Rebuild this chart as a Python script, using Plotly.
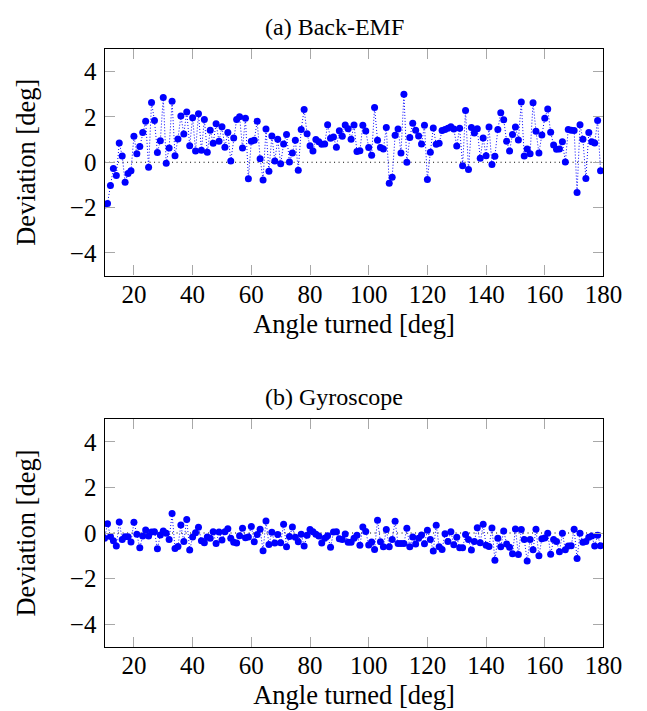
import plotly.graph_objects as go

# angle turned, one sample per degree
angle = list(range(10, 180))

# deviation of back-EMF estimate [deg]
backemf = [
    -1.89, -1.82, -1.03, -0.28, -0.59, 0.85, 0.28, -0.88, -0.50, -0.37,
    1.15, 0.37, 0.69, 1.31, 1.81, -0.22, 2.64, 1.84, 0.43, 0.95,
    2.86, -0.04, 0.63, 2.69, 0.29, 1.03, 2.04, 1.25, 2.22, 0.73,
    1.97, 0.50, 2.14, 0.53, 1.89, 0.44, 1.41, 0.84, 1.70, 0.93,
    1.57, 0.66, 1.31, 0.06, 1.07, 1.89, 2.01, 0.63, 1.94, -0.73,
    0.93, 0.97, 1.81, 0.16, -0.78, 1.47, -0.40, 1.16, 0.06, 1.01,
    -0.07, 0.81, 1.23, 0.01, 0.41, 0.97, -0.35, 1.45, 2.33, 1.26,
    0.73, 0.50, 1.00, 0.90, 0.79, 0.81, 1.66, 1.06, 1.12, 0.66,
    1.39, 1.15, 1.64, 1.48, 1.01, 1.64, 0.47, 0.51, 1.63, 1.38,
    0.65, 0.31, 2.42, 0.97, 0.65, 0.59, 1.53, -0.93, -0.66, 1.19,
    1.47, 0.41, 3.00, 0.00, 1.09, 1.72, 1.41, 1.16, 0.81, 1.63,
    -0.76, 0.44, 1.51, 0.79, 0.84, 1.40, 1.45, 1.50, 1.57, 1.47,
    0.72, 1.50, -0.15, 2.29, -0.32, 1.53, 1.29, 1.48, 0.18, 1.07,
    0.29, 1.56, -0.10, 0.26, 1.45, 2.19, 1.88, 0.93, 0.50, 1.23,
    1.56, 0.98, 2.66, 0.28, 0.59, 0.38, 2.63, 1.37, 0.41, 1.20,
    1.94, 2.35, 1.32, 0.76, 0.57, 0.59, 0.90, 0.01, 1.45, 1.41,
    1.40, -1.34, 1.66, 1.01, -0.72, 1.31, 0.91, 0.85, 1.84, -0.37,
]

# deviation of gyroscope estimate [deg]
gyro = [
    -0.23, 0.41, -0.15, -0.34, -0.57, 0.48, -0.28, -0.16, -0.16, -0.40,
    0.47, -0.06, -0.65, -0.13, 0.13, -0.13, 0.04, 0.06, -0.69, -0.09,
    0.09, -0.01, -0.28, 0.85, -0.68, -0.59, 0.35, -0.37, 0.59, -0.75,
    -0.18, 0.01, 0.25, -0.34, -0.43, -0.18, -0.23, 0.06, -0.46, 0.04,
    -0.31, 0.06, 0.19, -0.23, -0.41, -0.44, -0.12, 0.21, -0.21, -0.18,
    0.29, -0.38, -0.07, 0.16, -0.78, 0.53, -0.50, 0.03, -0.44, -0.07,
    -0.43, 0.38, -0.60, -0.15, 0.26, -0.19, -0.38, -0.06, -0.57, -0.10,
    0.15, 0.06, -0.06, -0.13, -0.44, -0.23, -0.12, -0.62, 0.04, 0.06,
    -0.25, -0.29, -0.04, -0.41, -0.41, -0.23, -0.10, -0.54, 0.26, 0.07,
    -0.53, -0.40, -0.72, 0.56, -0.38, -0.60, 0.15, -0.60, -0.28, 0.51,
    -0.46, -0.46, -0.46, 0.21, -0.60, -0.18, -0.48, -0.23, -0.09, -0.47,
    0.12, -0.28, -0.79, 0.34, -0.60, -0.72, -0.03, -0.37, 0.06, -0.51,
    -0.19, -0.65, -0.65, -0.07, -0.29, -0.75, -0.37, 0.23, -0.43, 0.38,
    -0.54, -0.59, 0.22, -1.19, -0.23, -0.60, 0.09, -0.48, -0.63, -0.91,
    0.18, -0.94, 0.15, -0.28, -1.23, -0.29, -0.73, 0.16, -1.00, -0.25,
    -0.22, -0.01, -0.93, -0.29, -0.37, -0.82, -0.01, -0.73, -0.57, -0.56,
    0.16, -1.12, -0.01, -0.41, -0.37, -0.19, -0.13, -0.57, -0.10, -0.56,
]

titles = ["(a) Back-EMF", "(b) Gyroscope"]
x_ticks = [20, 40, 60, 80, 100, 120, 140, 160, 180]
y_ticks = [-4, -2, 0, 2, 4]

FONT = "Liberation Serif"
W, H = 647, 711

fig = go.Figure()

# pixel boxes of the two frames (top, bottom)
frames = [(41, 267.5), (411, 639)]
x_dom = [99.5 / W, 613.5 / W]

for i, (series, name) in enumerate(zip([backemf, gyro], titles)):
    n = "" if i == 0 else str(i + 1)
    fig.add_trace(go.Scatter(
        x=angle, y=series, mode="lines+markers",
        line=dict(color="blue", width=1, dash="1px,2px"),
        marker=dict(color="blue", size=7),
        xaxis="x" + n, yaxis="y" + n, showlegend=False,
    ))
    # dotted zero line
    fig.add_shape(type="line", xref="x%s domain" % n, yref="y" + n,
                  x0=0, x1=1, y0=0, y1=0,
                  line=dict(color="black", width=1, dash="1px,3.5px"), layer="below")

    top, bot = frames[i]
    axis_common = dict(
        showline=True, linecolor="black", linewidth=1.2, mirror="ticks",
        ticks="inside", ticklen=10, tickcolor="#a8a8a8", tickwidth=1,
        showgrid=False, zeroline=False,
        tickfont=dict(family=FONT, size=25, color="black"),
    )
    fig.layout["xaxis" + n] = dict(
        axis_common, domain=x_dom, range=[10, 180], tickvals=x_ticks,
        anchor="y" + n, ticklabelstandoff=-4,
        title=dict(text="Angle turned [deg]", font=dict(family=FONT, size=26.5, color="black"), standoff=7),
    )
    fig.layout["yaxis" + n] = dict(
        axis_common, domain=[1 - bot / H, 1 - top / H], range=[-5, 5], tickvals=y_ticks,
        anchor="x" + n, ticklabelstandoff=2,
        title=dict(text="Deviation [deg]", font=dict(family=FONT, size=26.5, color="black"), standoff=26),
    )
    fig.add_annotation(text=name, xref="paper", yref="paper",
                       x=336 / W, y=1 - (top - 22) / H, showarrow=False,
                       font=dict(family=FONT, size=24, color="black"),
                       xanchor="center", yanchor="middle")

fig.update_layout(
    width=W, height=H, margin=dict(l=0, r=0, t=0, b=0),
    paper_bgcolor="white", plot_bgcolor="white",
)

fig.write_html("out.html")
